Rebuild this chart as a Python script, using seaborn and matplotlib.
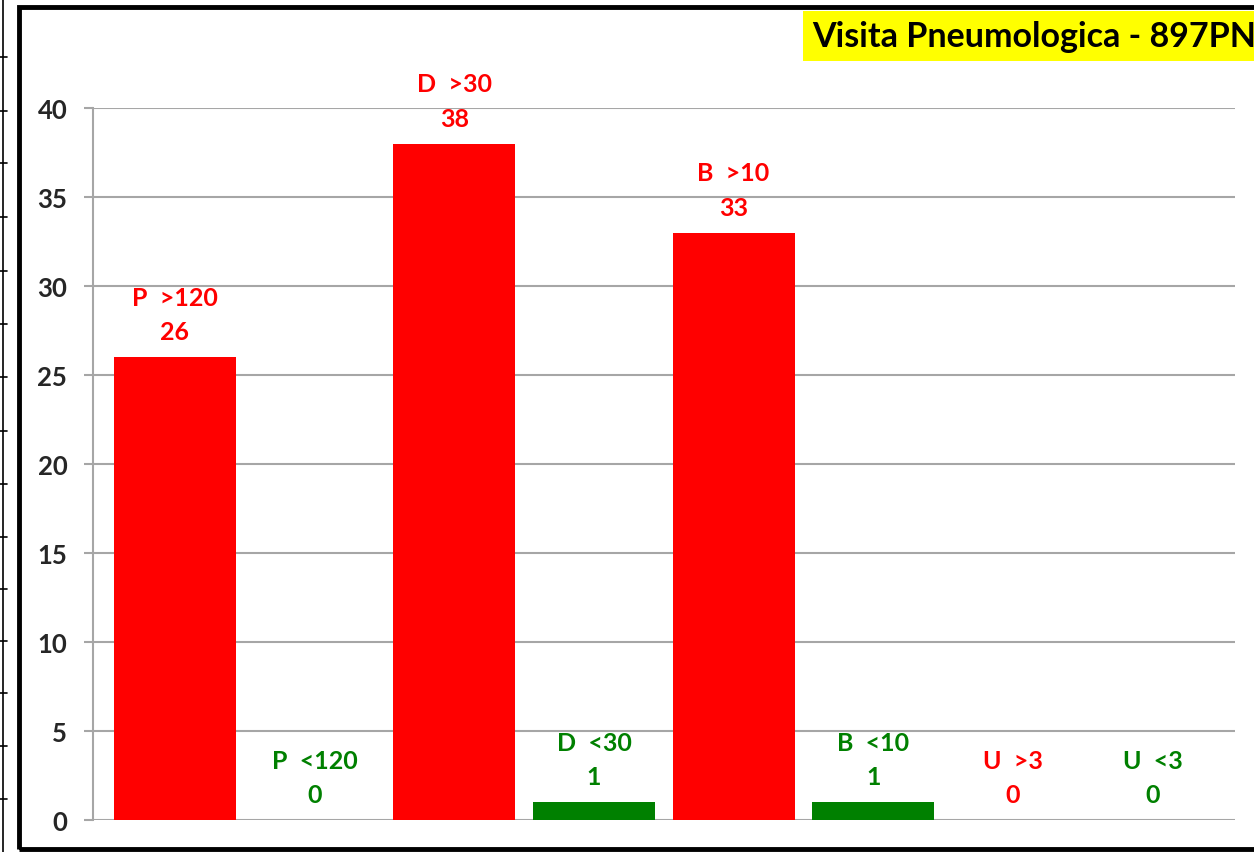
import numpy as np
import pandas as pd
import seaborn as sns
import matplotlib.pyplot as plt
from matplotlib.patches import Rectangle
from matplotlib.lines import Line2D

# ── dati ────────────────────────────────────────────────────────────────
categorie = ["P  >120", "P  <120", "D  >30", "D  <30", "B  >10", "B  <10", "U  >3", "U  <3"]
valori    = [26, 0, 38, 1, 33, 1, 0, 0]
colori    = ["#FF0000", "#008000"] * 4
titolo    = "Visita Pneumologica - 897PN"

sns.set_theme(style="white")
plt.rcParams["font.family"] = ["Lato", "DejaVu Sans"]
plt.rcParams["font.weight"] = "bold"

df = pd.DataFrame({"cat": categorie, "val": valori})

fig = plt.figure(figsize=(12.54, 8.53), dpi=100)
ax = fig.add_axes([93 / 1254, 32 / 853, (1235 - 93) / 1254, (821 - 109) / 853])

sns.barplot(data=df, x="cat", y="val", hue="cat", palette=colori,
            width=0.873, saturation=1, legend=False, ax=ax, zorder=3, linewidth=0)

ax.set_ylim(0, 40)
ax.set_xlim(-0.587, 7.59)
ax.set_yticks(range(0, 41, 5))
ax.yaxis.grid(True, color="#A6A6A6", linewidth=1.5, zorder=0)
ax.set_axisbelow(True)
for s in ["top", "right", "bottom"]:
    ax.spines[s].set_visible(False)
ax.spines["left"].set_color("#A6A6A6")
ax.spines["left"].set_linewidth(1.5)
ax.tick_params(axis="y", length=6.5, width=1.5, color="#A6A6A6", pad=12,
               labelsize=18.5, left=True)
for t in ax.get_yticklabels():
    t.set_fontweight("bold")
ax.set_xticks([])
ax.set_xlabel("")
ax.set_ylabel("")

# etichette sopra le barre
for i, (c, v, col) in enumerate(zip(categorie, valori, colori)):
    ax.annotate(f"{c}\n{v}", xy=(i, v), xytext=(0, 10), textcoords="offset points",
                ha="center", va="bottom", color=col, fontsize=18,
                fontweight="bold", linespacing=1.6, annotation_clip=False)

# titolo con riquadro giallo
fig.text(812 / 1254, 1 - 37 / 853, titolo, ha="left", va="center", fontsize=24.5,
         fontweight="bold", color="black",
         bbox=dict(boxstyle="square,pad=0.25", facecolor="#FFFF00", edgecolor="none"))

# bordo del grafico
fig.add_artist(Rectangle((19 / 1254, 3 / 853), 1.2, 1 - 11 / 853, transform=fig.transFigure,
                         fill=False, edgecolor="black", linewidth=3.5, clip_on=False))

# residuo del grafico accanto (bordo sinistro)
fig.add_artist(Line2D([3 / 1254, 3 / 1254], [0, 1], transform=fig.transFigure,
                      color="black", linewidth=1.2))
for yp in [58, 112, 164, 218, 272, 325, 378, 432, 485, 538, 590, 642, 694, 747, 800]:
    fig.add_artist(Line2D([0, 7 / 1254], [1 - yp / 853] * 2, transform=fig.transFigure,
                          color="black", linewidth=1.2))

plt.savefig("out.png", dpi=100)
plt.close()
